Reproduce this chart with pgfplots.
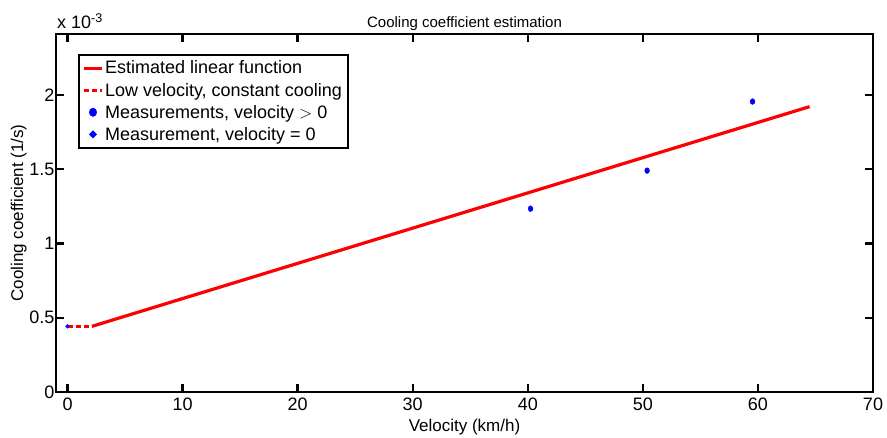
\documentclass[border=0pt]{standalone}
\usepackage{pgfplots}
\pgfplotsset{compat=1.18}
\usepackage{fontspec}
\setmainfont{Liberation Sans}
\definecolor{mred}{RGB}{255,0,0}
\definecolor{mblue}{RGB}{0,0,255}
\begin{document}
\begin{tikzpicture}
\begin{axis}[
  scale only axis,
  width=817pt, height=358pt,
  xmin=-1, xmax=70, ymin=0, ymax=2.41,
  xtick={0,10,...,70},
  ytick={0,0.5,1,1.5,2},
  yticklabels={0,0.5,1,1.5,2},
  axis line style={line width=2.6pt, draw=black},
  tick align=inside,
  major tick length=8pt,
  tick style={line width=2.4pt, draw=black},
  /pgf/number format/assume math mode=true,
  ticklabel style={font=\fontsize{18}{20}\selectfont},
  xticklabel style={yshift=-2pt},
  yticklabel style={xshift=2pt},
  xlabel={Velocity (km/h)},
  ylabel={Cooling coefficient (1/s)},
  label style={font=\fontsize{17}{20}\selectfont},
  xlabel style={at={(axis description cs:0.5,0)}, anchor=base, yshift=-40pt},
  ylabel style={yshift=-4pt},
  title={Cooling coefficient estimation},
  title style={font=\fontsize{15}{18}\selectfont, yshift=-6pt},
  legend style={at={(0.027,0.944)}, anchor=north west, draw=black, line width=1.8pt,
    font=\fontsize{18}{20}\selectfont, inner xsep=4pt, inner ysep=4pt, row sep=3.5pt,
    /tikz/every even column/.append style={column sep=0pt}},
  legend cell align=left,
  legend image post style={line width=3pt},
  clip=false,
]
\addplot[mred, line width=3.2pt] coordinates {(2.12,0.442) (64.49,1.921)};
\addlegendentry{Estimated linear function}
\addplot[mred, line width=3.2pt, dash pattern=on 5pt off 3pt] coordinates {(0,0.442) (2.12,0.442)};
\addlegendentry{Low velocity, constant cooling}
\addplot[only marks, mark=*, mark size=2.4pt, mblue, mark options={yscale=1.2}] coordinates {(40.24,1.234) (50.37,1.490) (59.53,1.955)};
\addlegendentry{Measurements, velocity $>$ 0}
\addplot[only marks, mark=*, mark size=1.9pt, mblue] coordinates {(0,0.442)};
\addlegendentry{Measurement, velocity = 0}
\draw[line width=2.6pt, black, line join=miter] (rel axis cs:0,0) rectangle (rel axis cs:1,1);
\node[anchor=base west, font=\fontsize{18}{20}\selectfont, inner sep=0pt] at (rel axis cs:0,1) [yshift=5pt, xshift=1pt] {x 10\textsuperscript{-3}};
\coordinate (ll) at (rel axis cs:0,0);
\coordinate (ur) at (rel axis cs:1,1);
\end{axis}
\pgfresetboundingbox
\path ([shift={(-56pt,-46pt)}]ll) rectangle ([shift={(14pt,34pt)}]ur);
\end{tikzpicture}
\end{document}
